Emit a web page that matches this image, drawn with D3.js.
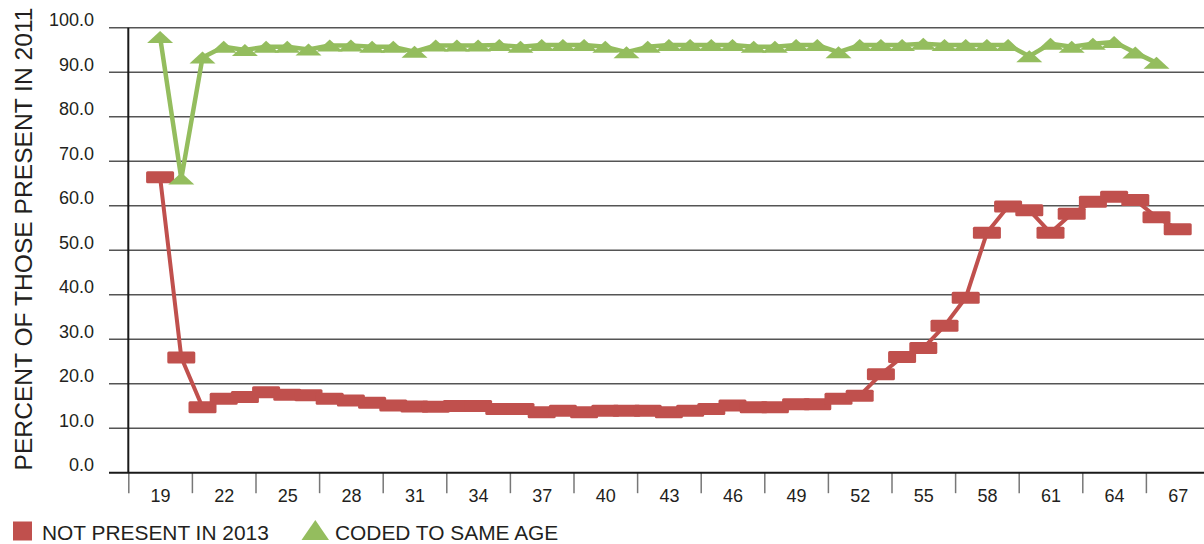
<!DOCTYPE html>
<html>
<head>
<meta charset="utf-8">
<script src="https://cdn.jsdelivr.net/npm/d3@7"></script>
<style>
  html, body { margin: 0; padding: 0; background: #fff; }
  svg { display: block; }
  text { font-family: "Liberation Sans", Arial, Helvetica, sans-serif; fill: #231f20; }
</style>
</head>
<body>
<svg id="chart" width="1204" height="544"></svg>
<script>
// ---- data ----
const ages = [19,20,21,22,23,24,25,26,27,28,29,30,31,32,33,34,35,36,37,38,39,40,41,42,43,
              44,45,46,47,48,49,50,51,52,53,54,55,56,57,58,59,60,61,62,63,64,65,66,67];
const notPresent = [66.4,25.9,14.7,16.6,17.0,18.1,17.5,17.4,16.6,16.2,15.7,15.1,14.9,14.8,15.0,15.0,
                    14.3,14.3,13.6,13.9,13.6,13.9,13.9,13.9,13.6,13.9,14.3,15.1,14.7,14.7,15.4,15.4,
                    16.6,17.3,22.1,26.0,28.0,33.0,39.3,53.9,59.8,59.0,53.9,58.2,60.9,62.0,61.3,57.4,54.7];
const codedSame = [97.9,66.1,93.3,95.7,95.0,95.7,95.7,95.1,96.0,96.0,95.7,95.7,94.6,96.0,96.0,96.0,
                   96.1,95.7,96.1,96.1,96.1,95.7,94.5,95.7,96.1,96.1,96.1,96.1,95.7,95.7,96.1,96.1,
                   94.5,96.1,96.1,96.1,96.4,96.1,96.1,96.1,96.1,93.6,96.4,95.7,96.4,96.8,94.4,92.1];
const xLabels = [19,22,25,28,31,34,37,40,43,46,49,52,55,58,61,64,67];
const xTickMarks = [17.5,20.5,23.5,26.5,29.5,32.5,35.5,38.5,41.5,44.5,47.5,50.5,53.5,56.5,59.5,62.5,65.5];
const yTicks = [0,10,20,30,40,50,60,70,80,90,100];
const seriesNames = ["NOT PRESENT IN 2013", "CODED TO SAME AGE"];
const yTitle = "PERCENT OF THOSE PRESENT IN 2011";

// ---- layout ----
const W = 1204, H = 544;
const axisX = 128.3, gridLeft = 109, gridRight = 1204;
const yTop = 27.7, yBottom = 472.7;
const RED = "#c0504d", GREEN = "#94bd5e";

const svg = d3.select("#chart");
svg.append("rect").attr("width", W).attr("height", H).attr("fill", "#fff");

const x = d3.scaleLinear().domain([17.5, 65.5]).range([axisX, axisX + 48 * 21.2]);
const y = d3.scaleLinear().domain([0, 100]).range([yBottom, yTop]);

// gridlines
svg.append("g").selectAll("line").data(yTicks.filter(d => d > 0)).join("line")
  .attr("x1", gridLeft).attr("x2", gridRight)
  .attr("y1", d => y(d)).attr("y2", d => y(d))
  .attr("stroke", "#555").attr("stroke-width", 1.5);

// y axis labels
const yAxis = svg.append("g").attr("transform", `translate(${gridLeft},0)`)
  .call(d3.axisLeft(y).tickValues(yTicks).tickSize(0).tickPadding(15).tickFormat(d3.format(".1f")));
yAxis.select(".domain").remove();
yAxis.selectAll("text").attr("dy", "-0.1em").style("font-size", "18px")
  .style("font-family", "'Liberation Sans', Arial, sans-serif").attr("fill", "#231f20");

// x tick marks
const xMarks = svg.append("g").attr("transform", `translate(0,${yBottom})`)
  .call(d3.axisBottom(x).tickValues(xTickMarks).tickSize(20.5).tickFormat(""));
xMarks.select(".domain").remove();
xMarks.selectAll("line").attr("stroke", "#777").attr("stroke-width", 1.5);

// x labels
const xAxis = svg.append("g").attr("transform", `translate(0,${yBottom})`)
  .call(d3.axisBottom(x).tickValues(xLabels).tickSize(0).tickFormat(d3.format("d")));
xAxis.select(".domain").remove();
xAxis.selectAll("text").attr("y", 29).attr("dy", 0).style("font-size", "18px")
  .style("font-family", "'Liberation Sans', Arial, sans-serif").attr("fill", "#231f20");

// axis lines
svg.append("line").attr("x1", gridLeft).attr("x2", gridRight).attr("y1", yBottom).attr("y2", yBottom)
  .attr("stroke", "#1a1a1a").attr("stroke-width", 2);
svg.append("line").attr("x1", axisX).attr("x2", axisX).attr("y1", yTop).attr("y2", yBottom)
  .attr("stroke", "#1a1a1a").attr("stroke-width", 2);

// y title
svg.append("text")
  .attr("transform", `translate(31.5,239) rotate(-90)`)
  .attr("text-anchor", "middle")
  .style("font-size", "24.6px")
  .text(yTitle);

// series
const line = d3.line().x((d, i) => x(ages[i])).y(d => y(d));

svg.append("path").datum(notPresent).attr("d", line)
  .attr("fill", "none").attr("stroke", RED).attr("stroke-width", 4).attr("stroke-linejoin", "round");
svg.append("g").selectAll("rect").data(notPresent).join("rect")
  .attr("x", (d, i) => x(ages[i]) - 14).attr("y", d => y(d) - 6)
  .attr("width", 28).attr("height", 12).attr("rx", 1.5)
  .attr("fill", RED);

svg.append("path").datum(codedSame).attr("d", line)
  .attr("fill", "none").attr("stroke", GREEN).attr("stroke-width", 4.5).attr("stroke-linejoin", "round");
const tri = (cx, cy) => `M${cx - 13},${cy + 6}L${cx + 13},${cy + 6}L${cx},${cy - 6}Z`;
svg.append("g").selectAll("path").data(codedSame).join("path")
  .attr("d", (d, i) => tri(x(ages[i]), y(d)))
  .attr("fill", GREEN);

// legend
const leg = svg.append("g");
leg.append("rect").attr("x", 13).attr("y", 521.5).attr("width", 19).attr("height", 19).attr("fill", RED);
leg.append("text").attr("x", 42).attr("y", 540).style("font-size", "20.9px").text(seriesNames[0]);
leg.append("path").attr("d", "M301.5,540L329,540L315.3,520Z").attr("fill", GREEN);
leg.append("text").attr("x", 335).attr("y", 540).style("font-size", "20.9px").text(seriesNames[1]);
</script>
</body>
</html>
